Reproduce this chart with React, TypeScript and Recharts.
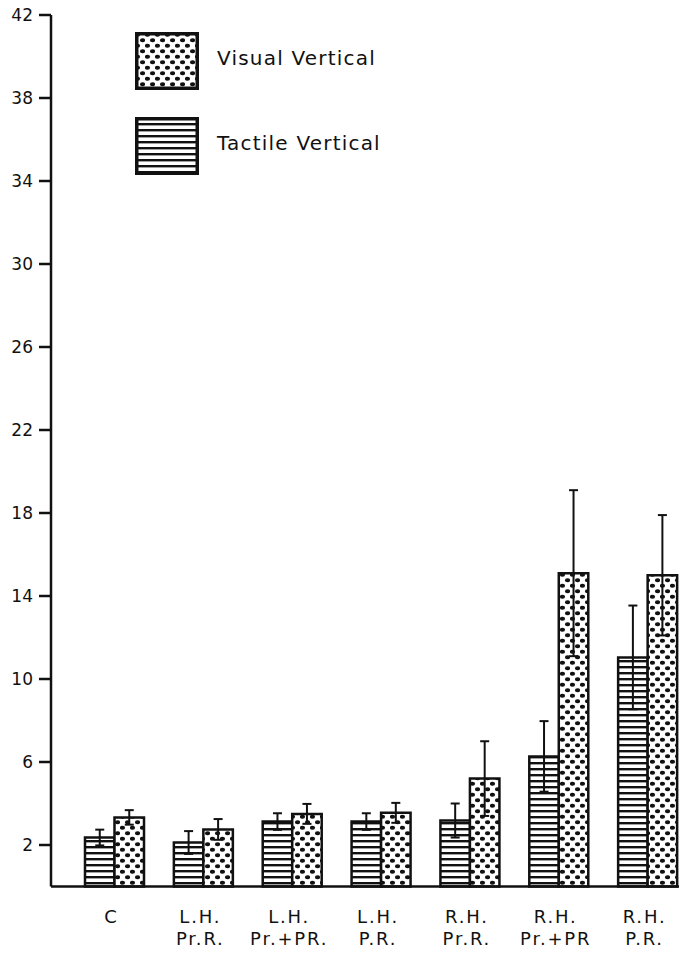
import { BarChart, Bar, XAxis, YAxis, ErrorBar, Legend } from 'recharts'

// group labels (two lines under each pair of bars)
const groupTop = ['C', 'L.H.', 'L.H.', 'L.H.', 'R.H.', 'R.H.', 'R.H.']
const groupBottom = ['', 'Pr.R.', 'Pr.+PR.', 'P.R.', 'Pr.R.', 'Pr.+PR', 'P.R.']

// means and error bars
const tactile = [2.36, 2.12, 3.13, 3.13, 3.18, 6.27, 11.04]
const tactileErr = [0.38, 0.55, 0.4, 0.4, 0.82, 1.7, 2.5]
const visual = [3.33, 2.75, 3.5, 3.55, 5.2, 15.1, 15.0]
const visualErr = [0.35, 0.5, 0.48, 0.48, 1.8, 4.0, 2.9]

const yTicks = [2, 6, 10, 14, 18, 22, 26, 30, 34, 38, 42]

const data = groupTop.map((top, i) => ({
  name: `${top}|${groupBottom[i]}`,
  tactile: tactile[i],
  tactileErr: tactileErr[i],
  visual: visual[i],
  visualErr: visualErr[i],
}))

const FONT = '"DejaVu Sans", Verdana, sans-serif'

function GroupTick({ x, y, payload }: any) {
  const [a, b] = String(payload.value).split('|')
  const style = { fontFamily: FONT, fontSize: 18, letterSpacing: 1.8, fill: '#111' }
  return (
    <g>
      <text x={x - 3} y={y + 28} textAnchor="middle" style={style}>{a}</text>
      <text x={x - 3} y={y + 50} textAnchor="middle" style={style}>{b}</text>
    </g>
  )
}

function Patterns({ prefix }: { prefix: string }) {
  return (
    <>
      <pattern id={`${prefix}stripes`} width="6" height="6" patternUnits="userSpaceOnUse">
        <rect width="6" height="6" fill="#fff" />
        <rect y="0" width="6" height="2.4" fill="#111" />
      </pattern>
      <pattern id={`${prefix}dots`} width="10" height="11" patternUnits="userSpaceOnUse">
        <rect width="10" height="11" fill="#fff" />
        <ellipse cx="2.5" cy="2.75" rx="2.6" ry="2.0" fill="#111" />
        <ellipse cx="7.5" cy="8.25" rx="2.6" ry="2.0" fill="#111" />
      </pattern>
    </>
  )
}

function LegendBox() {
  const rows = [
    { label: 'Visual Vertical', fill: 'url(#lg-dots)' },
    { label: 'Tactile Vertical', fill: 'url(#lg-stripes)' },
  ]
  return (
    <div style={{ fontFamily: FONT }}>
      <svg width="0" height="0" style={{ position: 'absolute' }}>
        <defs>
          <Patterns prefix="lg-" />
        </defs>
      </svg>
      {rows.map((r, i) => (
        <div key={r.label} style={{ display: 'flex', alignItems: 'center', marginTop: i ? 27 : 0 }}>
          <svg width="64" height="58">
            <rect x="1.75" y="1.75" width="60.5" height="54.5" fill={r.fill} stroke="#111" strokeWidth="3.5" />
          </svg>
          <span style={{ marginLeft: 18, marginTop: -6, fontSize: 20, letterSpacing: 1.2, color: '#111' }}>{r.label}</span>
        </div>
      ))}
    </div>
  )
}

export default function App() {
  return (
    <div style={{ position: 'absolute', left: 0, top: 0, width: 679, height: 953, overflow: 'hidden', background: '#fff' }}>
      <BarChart
        width={692}
        height={953}
        data={data}
        margin={{ top: 15, right: 0, left: 0, bottom: 0 }}
        barGap={0}
        barSize={29.5}
      >
        <defs>
          <Patterns prefix="bar-" />
        </defs>
        <XAxis
          dataKey="name"
          height={66.5}
          padding={{ left: 19, right: 0 }}
          axisLine={{ stroke: '#111', strokeWidth: 2.5 }}
          tickLine={false}
          interval={0}
          tick={<GroupTick />}
        />
        <YAxis
          width={51}
          domain={[0, 42]}
          ticks={yTicks}
          interval={0}
          axisLine={{ stroke: '#111', strokeWidth: 2.5 }}
          tickLine={{ stroke: '#111', strokeWidth: 2.5 }}
          tickSize={12}
          tickMargin={6}
          tick={{ fontFamily: FONT, fontSize: 17, fill: '#111' }}
        />
        <Legend
          layout="vertical"
          align="center"
          verticalAlign="middle"
          content={<LegendBox />}
          wrapperStyle={{ position: 'absolute', left: 135, top: 32, width: 320 }}
        />
        <Bar dataKey="tactile" name="Tactile Vertical" fill="url(#bar-stripes)" stroke="#111" strokeWidth={2.5} isAnimationActive={false}>
          <ErrorBar dataKey="tactileErr" width={4.5} stroke="#111" strokeWidth={2} direction="y" />
        </Bar>
        <Bar dataKey="visual" name="Visual Vertical" fill="url(#bar-dots)" stroke="#111" strokeWidth={2.5} isAnimationActive={false}>
          <ErrorBar dataKey="visualErr" width={4.5} stroke="#111" strokeWidth={2} direction="y" />
        </Bar>
      </BarChart>
    </div>
  )
}
